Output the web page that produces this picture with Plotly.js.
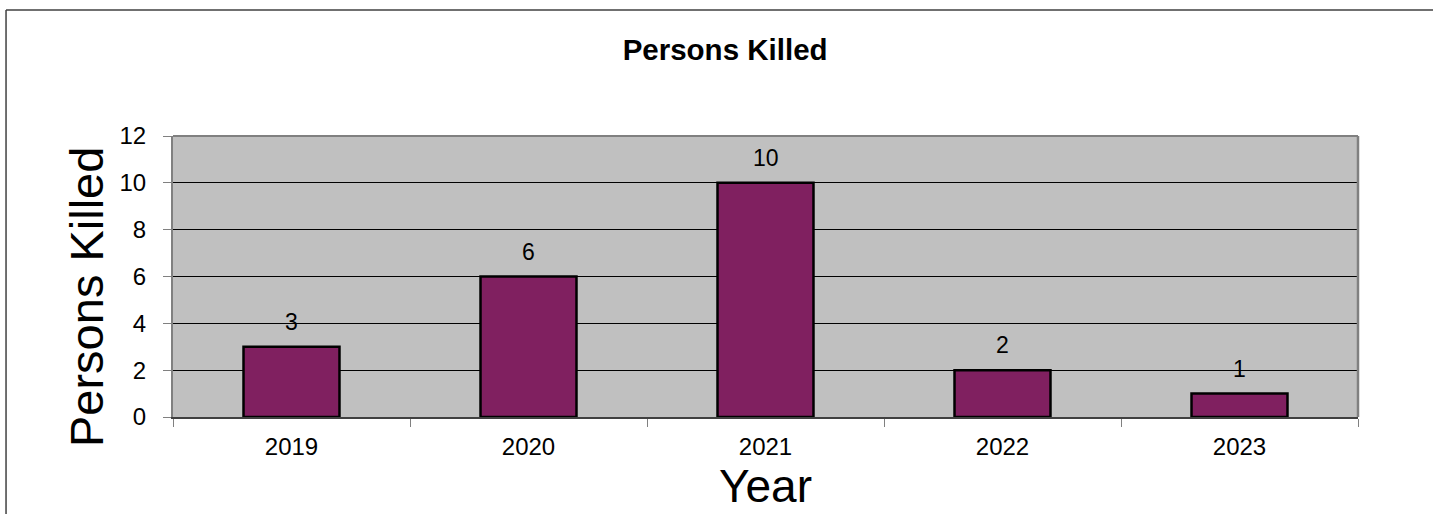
<!DOCTYPE html>
<html>
<head>
<meta charset="utf-8">
<script src="https://cdn.plot.ly/plotly-3.0.1.min.js"></script>
<style>html,body{margin:0;padding:0;background:#fff;}#chart{width:1433px;height:514px;}</style>
</head>
<body>
<div id="chart"></div>
<script>
const years = ["2019", "2020", "2021", "2022", "2023"];
const killed = [3, 6, 10, 2, 1];
const yTicks = [0, 2, 4, 6, 8, 10, 12];

const FONT = '"Liberation Sans", Arial, Helvetica, sans-serif';

const trace = {
  type: 'bar',
  x: years,
  y: killed,
  marker: { color: '#802060', line: { color: '#000000', width: 2.5 } },
  hoverinfo: 'x+y'
};

const labelAnnotations = years.map((yr, i) => ({
  x: i, y: killed[i], xref: 'x', yref: 'y',
  text: String(killed[i]), showarrow: false,
  yshift: 25, font: { family: FONT, size: 23, color: '#000' }
}));

const layout = {
  width: 1433, height: 514,
  margin: { l: 173, r: 75, t: 136, b: 97 },
  paper_bgcolor: '#ffffff',
  plot_bgcolor: '#C0C0C0',
  font: { family: FONT, color: '#000' },
  showlegend: false,
  bargap: 0.595,
  title: {
    text: '<b>Persons Killed</b>',
    font: { family: FONT, size: 29.5, color: '#000' },
    xref: 'container', x: 0.506, xanchor: 'center',
    yref: 'container', y: 0.903, yanchor: 'middle'
  },
  xaxis: {
    type: 'category',
    categoryorder: 'array', categoryarray: years,
    range: [-0.5, years.length - 0.5],
    tickson: 'boundaries',
    ticks: 'outside', ticklen: 8, tickwidth: 1, tickcolor: '#808080',
    showline: true, linecolor: '#404040', linewidth: 2,
    showgrid: false, zeroline: false,
    tickfont: { family: FONT, size: 24, color: '#000' },
    tickangle: 0,
    ticklabelstandoff: 7,
    title: { text: 'Year', font: { family: FONT, size: 46, color: '#000' }, standoff: 6 },
    fixedrange: true
  },
  yaxis: {
    range: [0, 12],
    tickmode: 'array', tickvals: yTicks, ticktext: yTicks.map(String),
    ticks: 'outside', ticklen: 8, tickwidth: 1, tickcolor: '#808080',
    showline: true, linecolor: '#808080', linewidth: 2,
    showgrid: true, gridcolor: '#000000', gridwidth: 1,
    zeroline: false,
    tickfont: { family: FONT, size: 24, color: '#000' },
    ticklabelstandoff: 12,
    fixedrange: true
  },
  annotations: labelAnnotations.concat([{
    text: 'Persons Killed', xref: 'paper', yref: 'paper',
    x: -0.0734, y: 0.427, xanchor: 'center', yanchor: 'middle',
    textangle: -90, showarrow: false,
    font: { family: FONT, size: 47, color: '#000' }
  }]),
  shapes: [
    { type: 'line', xref: 'paper', yref: 'paper', x0: 0, x1: 1, y0: 1, y1: 1,
      line: { color: '#808080', width: 2 }, layer: 'above' },
    { type: 'line', xref: 'paper', yref: 'paper', x0: 1, x1: 1, y0: 0, y1: 1,
      line: { color: '#808080', width: 2.5 }, layer: 'above' },
    { type: 'line', xref: 'paper', yref: 'paper', x0: -0.1409, x1: 1.07, y0: 1.448, y1: 1.448,
      line: { color: '#404040', width: 1.5 } },
    { type: 'line', xref: 'paper', yref: 'paper', x0: -0.1409, x1: -0.1409, y0: 1.448, y1: -0.36,
      line: { color: '#404040', width: 1.5 } }
  ]
};

Plotly.newPlot('chart', [trace], layout, { displayModeBar: false, staticPlot: true });
</script>
</body>
</html>
